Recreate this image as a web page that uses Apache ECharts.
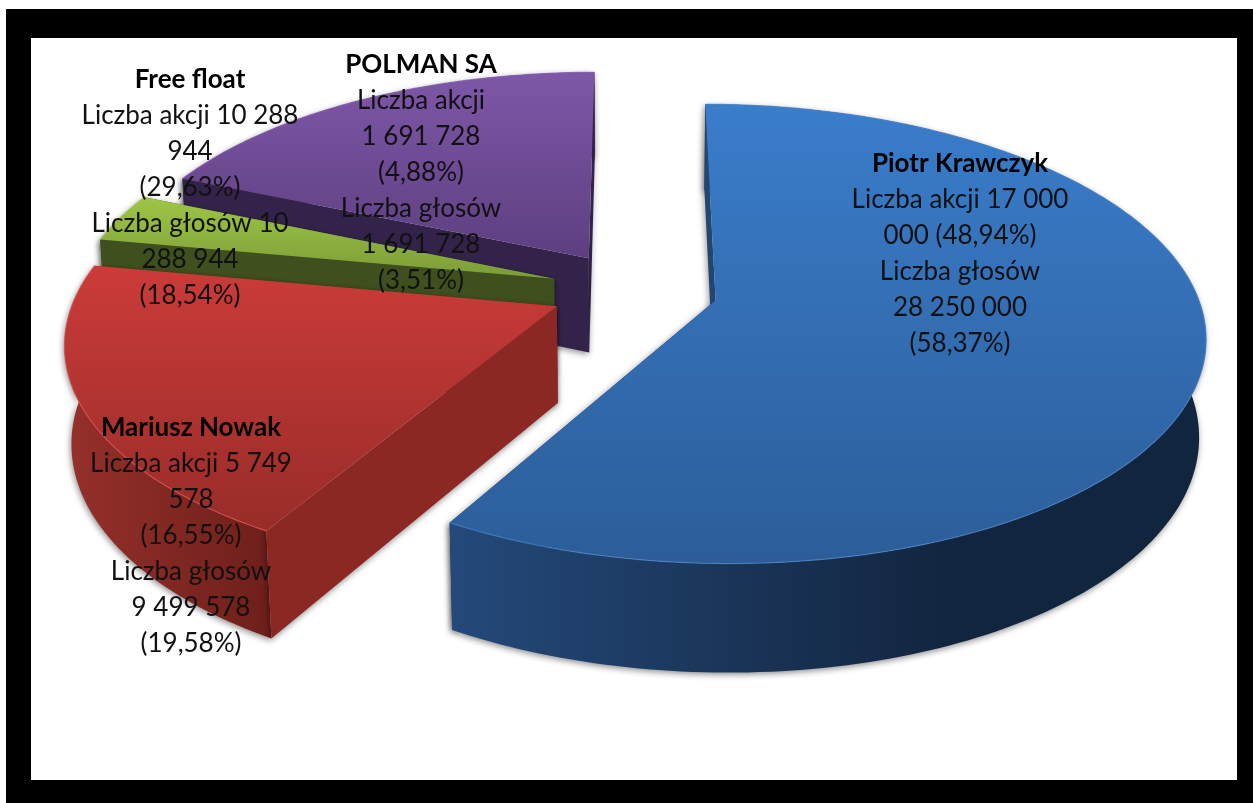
<!DOCTYPE html>
<html>
<head>
<meta charset="utf-8">
<style>
  html, body { margin: 0; padding: 0; background: #fff; }
  #chart { width: 1253px; height: 803px; }
</style>
<script src="https://cdn.jsdelivr.net/npm/echarts@6/dist/echarts.min.js"></script>
</head>
<body>
<div id="chart"></div>
<script>
// slices, clockwise from 12 o'clock
var categories = ['Piotr Krawczyk', 'Mariusz Nowak', 'POLMAN SA', 'Free float'];
var voteShare = [58.37, 19.58, 3.51, 18.54];
var labelLines = [
  ['Liczba akcji 17 000', '000 (48,94%)', 'Liczba głosów', '28 250 000', '(58,37%)'],
  ['Liczba akcji 5 749', '578', '(16,55%)', 'Liczba głosów', '9 499 578', '(19,58%)'],
  ['Liczba akcji', '1 691 728', '(4,88%)', 'Liczba głosów', '1 691 728', '(3,51%)'],
  ['Liczba akcji 10 288', '944', '(29,63%)', 'Liczba głosów 10', '288 944', '(18,54%)']
];

// label anchors, same order as categories
var labelX = [960, 191, 421, 190];
var labelY = [146, 410, 47, 62];

var sliceColors = [
  { top: ['#3a7dcb', '#2c5d99'], wall: ['#24497a', '#12253f'], edge: '#22466f', rim: '#4a86cc' },
  { top: ['#cb3b39', '#982c29'], wall: ['#96302b', '#6e1f1a'], edge: '#8c2823', rim: '#d9534f' },
  { top: ['#9fc545', '#7b9c38'], wall: ['#45561f', '#3c4a1b'], edge: '#3f4f1d', rim: '#a9cc55' },
  { top: ['#7f57a8', '#5d3f80'], wall: ['#3a2854', '#2f2045'], edge: '#33234a', rim: '#8a63b3' }
];

// projection of the tilted pie
var cam = { cx: 634, cy: 290, a: 480, b: 221.7, c: 97, p: 0.146, q: 0.012, explode: 0.175 };

function project(x, y, h) {
  var w = 1 + cam.p * y + cam.q * h;
  return [cam.cx + cam.a * x / w, cam.cy - cam.b * y / w + cam.c * h / w];
}

function arcPoints(ox, oy, t0, t1, h) {
  var pts = [];
  var n = Math.max(4, Math.round((t1 - t0) / 0.02));
  for (var i = 0; i <= n; i++) {
    var t = t0 + (t1 - t0) * i / n;
    pts.push(project(ox + Math.sin(t), oy + Math.cos(t), h));
  }
  return pts;
}

function vGrad(y0, y1, colors) {
  return new echarts.graphic.LinearGradient(0, y0, 0, y1, [
    { offset: 0, color: colors[0] }, { offset: 1, color: colors[1] }
  ], true);
}

function hGrad(x0, x1, colors) {
  return new echarts.graphic.LinearGradient(x0, 0, x1, 0, [
    { offset: 0, color: colors[0] }, { offset: 1, color: colors[1] }
  ], true);
}

function bounds(pts, k) {
  var vals = pts.map(function (d) { return d[k]; });
  return [Math.min.apply(null, vals), Math.max.apply(null, vals)];
}

function renderSlice(params, api) {
  var idx = api.value(1);
  var total = 0, before = 0;
  voteShare.forEach(function (v, i) {
    total += v;
    if (i < idx) before += v;
  });
  var t0 = before / total * Math.PI * 2;
  var t1 = (before + api.value(0)) / total * Math.PI * 2;
  var mid = (t0 + t1) / 2;
  var ox = cam.explode * Math.sin(mid);
  var oy = cam.explode * Math.cos(mid);
  var col = sliceColors[idx];

  var apex = project(ox, oy, 0);
  var apexLow = project(ox, oy, 1);
  var topArc = arcPoints(ox, oy, t0, t1, 0);
  var lowArc = arcPoints(ox, oy, t0, t1, 1);

  var band = topArc.concat(lowArc.slice().reverse());
  var topFace = [apex].concat(topArc);
  var xr = bounds(band, 0);
  var yr = bounds(topFace, 1);

  var shadow = { shadowBlur: 6, shadowColor: 'rgba(0,0,0,0.45)', shadowOffsetX: -1, shadowOffsetY: 2 };

  return {
    type: 'group',
    children: [
      {
        type: 'polygon',
        shape: { points: [apex, topArc[topArc.length - 1], lowArc[lowArc.length - 1], apexLow] },
        style: Object.assign({ fill: col.edge }, shadow)
      },
      {
        type: 'polygon',
        shape: { points: band },
        style: Object.assign({ fill: hGrad(xr[0], Math.min(xr[1], xr[0] + 500), col.wall) }, shadow)
      },
      {
        type: 'polygon',
        shape: { points: [apex, topArc[0], lowArc[0], apexLow] },
        style: Object.assign({ fill: col.edge }, shadow)
      },
      {
        type: 'polygon',
        shape: { points: topFace },
        style: { fill: vGrad(yr[0], yr[1], col.top) }
      },
      {
        type: 'polyline',
        shape: { points: topArc },
        style: { fill: null, stroke: col.rim, lineWidth: 1.2, opacity: 0.7 }
      }
    ]
  };
}

var labelFont = 'Lato, "Open Sans", sans-serif';
var labels = categories.map(function (name, i) {
  return {
    type: 'text',
    z: 100,
    x: labelX[i],
    y: labelY[i],
    style: {
      text: '{b|' + name + '}\n' + labelLines[i].join('\n'),
      align: 'center',
      verticalAlign: 'top',
      fill: '#111',
      font: '26px ' + labelFont,
      lineHeight: 36,
      rich: {
        b: { font: 'bold 26px ' + labelFont, lineHeight: 36, fill: '#000' }
      }
    }
  };
});

var chart = echarts.init(document.getElementById('chart'));
chart.setOption({
  animation: false,
  backgroundColor: '#fff',
  graphic: [
    { type: 'rect', z: -10, shape: { x: 6, y: 9, width: 1247, height: 794 }, style: { fill: '#000' } },
    { type: 'rect', z: -9, shape: { x: 31, y: 38, width: 1206, height: 742 }, style: { fill: '#fff' } }
  ].concat(labels),
  series: [{
    type: 'custom',
    coordinateSystem: 'none',
    silent: true,
    renderItem: renderSlice,
    // back slices first so the nearer ones paint over them
    data: voteShare.map(function (v, i) { return [v, i]; }).reverse()
  }]
});
</script>
</body>
</html>
